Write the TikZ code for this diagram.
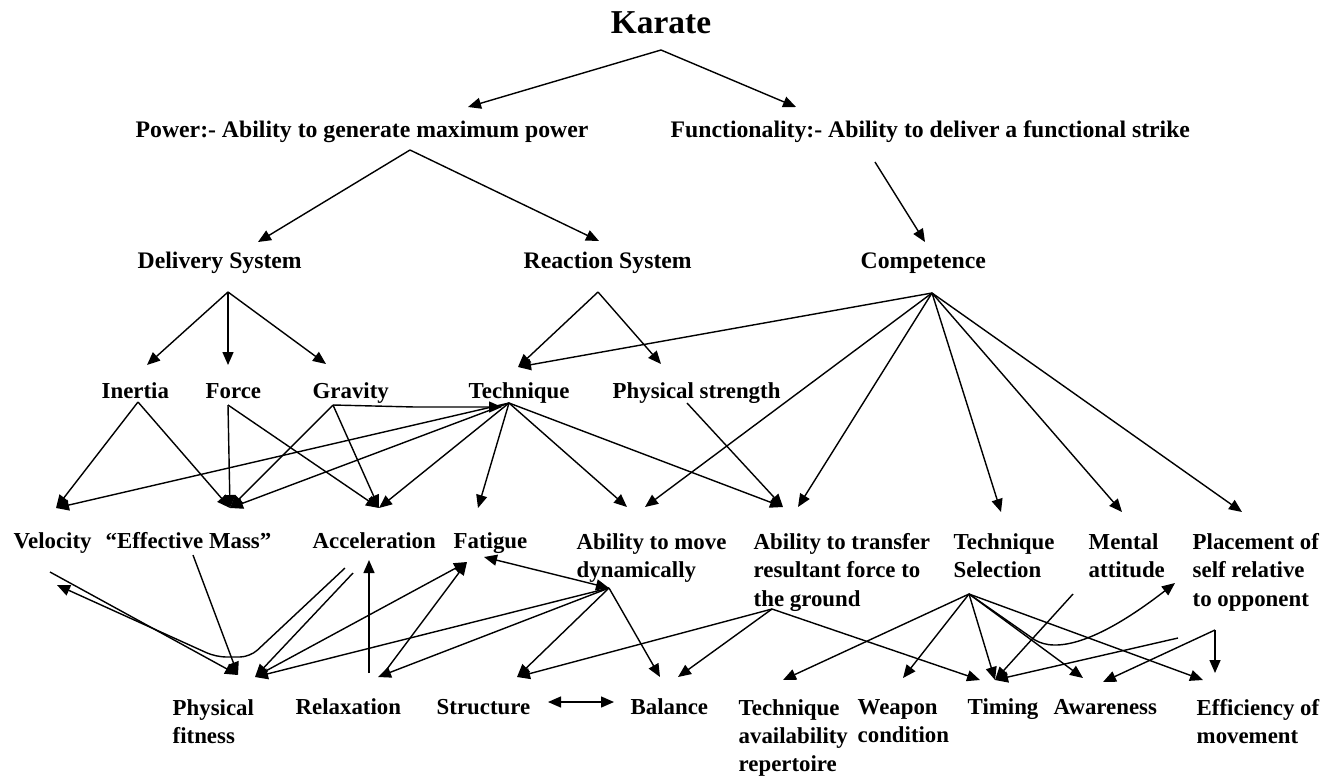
\documentclass[tikz,border=0pt]{standalone}
\usepackage{fontspec}
\setmainfont{Liberation Serif}
\usetikzlibrary{arrows.meta}

\begin{document}
\begin{tikzpicture}[x=0.2mm, y=-0.2mm, >={Triangle[length=2.6mm, width=2.2mm]}, line width=0.8pt,
		lbl/.style={font=\bfseries\fontsize{13}{16}\selectfont, inner sep=0pt, align=left, anchor=north west,
			execute at begin node=\strut},
		head/.style={lbl, font=\bfseries\fontsize{13.5}{16}\selectfont},
		title/.style={font=\bfseries\fontsize{19}{22}\selectfont, inner sep=0pt, anchor=base}]
		
		\useasboundingbox (0,0) rectangle (1343,780);
		
		% ---------------------------------------------------------
		% LABELS (top left corner of each text)
		% ---------------------------------------------------------
		\node[title] (karate) at (661,33) {Karate};
		\node[head] (power) at (135,117) {Power:- Ability to generate maximum power};
		\node[head] (func) at (670,117) {Functionality:- Ability to deliver a functional strike};
		
		\node[head] (deliv) at (137,248) {Delivery System};
		\node[head] (react) at (523,248) {Reaction System};
		\node[head] (comp) at (860,248) {Competence};
		
		\node[lbl] (inertia) at (101,378) {Inertia};
		\node[lbl] (force) at (205,378) {Force};
		\node[lbl] (gravity) at (312,378) {Gravity};
		\node[lbl] (tech) at (468,378) {Technique};
		\node[lbl] (phys) at (612,378) {Physical strength};
		
		\node[lbl] (vel) at (13,528) {Velocity};
		\node[lbl] (mass) at (105,528) {``Effective Mass''};
		\node[lbl] (accel) at (312,528) {Acceleration};
		\node[lbl] (fatigue) at (453,528) {Fatigue};
		\node[lbl] (move) at (576,533) {Ability to move\\dynamically};
		\node[lbl] (transfer) at (753,533) {Ability to transfer\\resultant force to\\the ground};
		\node[lbl] (tsel) at (953,533) {Technique\\Selection};
		\node[lbl] (mental) at (1088,533) {Mental\\attitude};
		\node[lbl] (place) at (1192,533) {Placement of\\self relative\\to opponent};
		
		\node[lbl] (fitness) at (172,699) {Physical\\fitness};
		\node[lbl] (relax) at (295,694) {Relaxation};
		\node[lbl] (struct) at (436,694) {Structure};
		\node[lbl] (balance) at (630,694) {Balance};
		\node[lbl] (avail) at (738,699) {Technique\\availability\\repertoire};
		\node[lbl] (weapon) at (857,699) {Weapon\\condition};
		\node[lbl] (timing) at (967,694) {Timing};
		\node[lbl] (aware) at (1053,694) {Awareness};
		\node[lbl] (effic) at (1196,699) {Efficiency of\\movement};
		
		% ---------------------------------------------------------
		% FAN-OUT POINTS (under each label)
		% ---------------------------------------------------------
		\coordinate (karO) at (661,50);
		\coordinate (powO) at (410,150);
		\coordinate (funO) at (875,162);
		\coordinate (delO) at (228,292);
		\coordinate (reaO) at (598,292);
		\coordinate (comO) at (932,293);
		\coordinate (inerO) at (138,402);
		\coordinate (forO) at (228,405);
		\coordinate (gravO) at (333,405);
		\coordinate (gravK) at (415,407);
		\coordinate (techO) at (509,403);
		\coordinate (physO) at (687,403);
		\coordinate (velO) at (50,572);
		\coordinate (massO) at (193,555);
		\coordinate (accO) at (345,568);
		\coordinate (accO2) at (353,573);
		\coordinate (moveO) at (609,588);
		\coordinate (tranO) at (772,609);
		\coordinate (tselO) at (969,594);
		\coordinate (mentO) at (1073,594);
		\coordinate (placeO) at (1215,630);
		\coordinate (placeO2) at (1178,638);
		\coordinate (fitO) at (262,673);
		\coordinate (relO) at (369,673);
		\coordinate (relO2) at (384,673);
		\coordinate (strR) at (548,702);
		\coordinate (balL) at (614,702);
		
		% ARROW TIPS (above each label)
		\coordinate (powI) at (468,107);
		\coordinate (funI) at (796,107);
		\coordinate (delI) at (258,242);
		\coordinate (reaI) at (599,241);
		\coordinate (comI) at (925,242);
		\coordinate (inerI) at (147,365);
		\coordinate (forI) at (228,365);
		\coordinate (gravI) at (326,364);
		\coordinate (techI) at (518,367);
		\coordinate (techI2) at (502,407);
		\coordinate (physI) at (661,364);
		\coordinate (velI) at (56,508);
		\coordinate (velI2) at (57,585);
		\coordinate (massI) at (230,508);
		\coordinate (accI) at (379,508);
		\coordinate (accI2) at (369,560);
		\coordinate (fatI) at (478,508);
		\coordinate (fatI2) at (467,562);
		\coordinate (fatI3) at (484,557);
		\coordinate (moveI) at (627,507);
		\coordinate (moveI2) at (645,507);
		\coordinate (tranI) at (783,507);
		\coordinate (tranI2) at (798,507);
		\coordinate (tselI) at (1001,512);
		\coordinate (mentI) at (1122,512);
		\coordinate (placeI) at (1242,512);
		\coordinate (placeI2) at (1175,583);
		\coordinate (fitI) at (238,675);
		\coordinate (fitI2) at (255,677);
		\coordinate (relI) at (378,677);
		\coordinate (strI) at (517,677);
		\coordinate (balI) at (660,677);
		\coordinate (balI2) at (678,677);
		\coordinate (availI) at (783,680);
		\coordinate (weapI) at (903,678);
		\coordinate (timI) at (980,680);
		\coordinate (timI2) at (995,680);
		\coordinate (awI) at (1083,678);
		\coordinate (awI2) at (1103,682);
		\coordinate (effI) at (1203,680);
		\coordinate (effI2) at (1215,673);
		
		% ---------------------------------------------------------
		% TOP LEVELS
		% ---------------------------------------------------------
		\draw[->] (karO) -- (powI);
		\draw[->] (karO) -- (funI);
		\draw[->] (powO) -- (delI);
		\draw[->] (powO) -- (reaI);
		\draw[->] (funO) -- (comI);
		
		\draw[->] (delO) -- (inerI);
		\draw[->] (delO) -- (forI);
		\draw[->] (delO) -- (gravI);
		\draw[->] (reaO) -- (techI);
		\draw[->] (reaO) -- (physI);
		
		% Competence fan
		\draw[->] (comO) -- (techI);
		\draw[->] (comO) -- (moveI2);
		\draw[->] (comO) -- (tranI2);
		\draw[->] (comO) -- (tselI);
		\draw[->] (comO) -- (mentI);
		\draw[->] (comO) -- (placeI);
		
		% ---------------------------------------------------------
		% MIDDLE LEVEL
		% ---------------------------------------------------------
		\draw[->] (inerO) -- (velI);
		\draw[->] (inerO) -- (massI);
		\draw[->] (forO) -- (massI);
		\draw[->] (forO) -- (accI);
		\draw[->] (gravO) -- (massI);
		\draw[->] (gravO) -- (accI);
		\draw[->] (gravO) -- (gravK) -- (techI2);
		
		% Technique fan
		\draw[->] (techO) -- (velI);
		\draw[->] (techO) -- (massI);
		\draw[->] (techO) -- (accI);
		\draw[->] (techO) -- (fatI);
		\draw[->] (techO) -- (moveI);
		\draw[->] (techO) -- (tranI);
		\draw[->] (physO) -- (tranI);
		
		% ---------------------------------------------------------
		% BOTTOM LEVEL
		% ---------------------------------------------------------
		\draw[->] (velO) -- (fitI);
		\draw[->] (massO) -- (fitI);
		\draw[->, rounded corners=2mm] (accO) -- (250,657) -- (216,657) -- (velI2);
		\draw[->] (accO2) -- (fitI2);
		\draw[->] (relO) -- (accI2);
		\draw[->] (fitO) -- (fatI2);
		\draw[->] (relO2) -- (fatI2);
		
		% Ability to move
		\draw[<->] (fatI3) -- (moveO);
		\draw[->] (moveO) -- (fitI2);
		\draw[->] (moveO) -- (relI);
		\draw[->] (moveO) -- (strI);
		\draw[->] (moveO) -- (balI);
		
		% Ability to transfer
		\draw[->] (tranO) -- (strI);
		\draw[->] (tranO) -- (balI2);
		\draw[->] (tranO) -- (timI);
		
		% Technique selection
		\draw[->] (tselO) -- (availI);
		\draw[->] (tselO) -- (weapI);
		\draw[->] (tselO) -- (timI2);
		\draw[->] (tselO) -- (awI);
		\draw[->] (tselO) -- (effI);
		\draw[->] (tselO) -- (1035,640) .. controls (1055,652) and (1095,645) .. (placeI2);
		
		\draw[->] (mentO) -- (timI2);
		\draw[->] (placeO) -- (effI2);
		\draw[->] (placeO) -- (awI2);
		\draw[->] (placeO2) -- (timI2);
		
		% Structure <-> Balance
		\draw[<->] (strR) -- (balL);
		
	\end{tikzpicture}
\end{document}
